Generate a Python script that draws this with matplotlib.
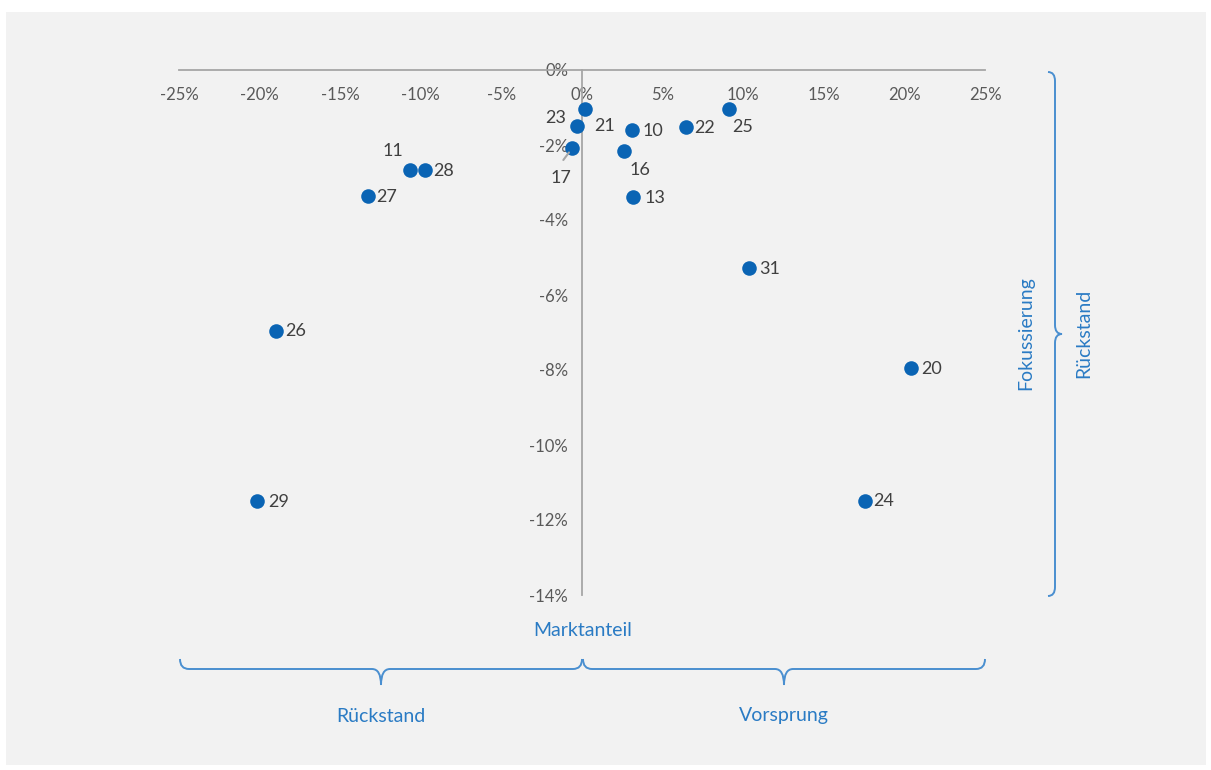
import matplotlib
matplotlib.use("Agg")
import matplotlib.pyplot as plt
from matplotlib.path import Path
from matplotlib.patches import PathPatch, Rectangle

plt.rcParams['font.family'] = ['Lato', 'DejaVu Sans']

# ---- data (percent) ----
ids = ["23", "21", "17", "10", "16", "13", "22", "25", "11", "28", "27", "31", "26", "20", "29", "24"]
x_vals = [-0.3, 0.2, -0.6, 3.1, 2.6, 3.15, 6.45, 9.1, -10.7, -9.75, -13.3, 10.35, -19.0, 20.4, -20.15, 17.55]
y_vals = [-1.5, -1.05, -2.08, -1.6, -2.16, -3.38, -1.52, -1.04, -2.67, -2.67, -3.36, -5.28, -6.95, -7.95, -11.5, -11.48]
x_ticks = [-25, -20, -15, -10, -5, 0, 5, 10, 15, 20, 25]
y_ticks = [0, -2, -4, -6, -8, -10, -12, -14]
x_title = "Marktanteil"
y_title = "Fokussierung"
bottom_groups = ["Rückstand", "Vorsprung"]
right_group = "Rückstand"

# label offsets in pixels (dx, dy up)
label_off = {"23": (-22, 8), "21": (19, -17), "17": (-11, -30), "10": (21, -1),
             "16": (16, -19), "13": (22, -1), "22": (19, -1), "25": (14, -18),
             "11": (-17, 19), "28": (19, -1), "27": (19, -1), "31": (21, -1),
             "26": (20, 0), "20": (21, -1), "29": (21, -1), "24": (19, 0)}

W, H = 1211, 770
fig = plt.figure(figsize=(W / 100, H / 100), dpi=100)
fig.patch.set_facecolor("white")

# background overlay axes in pixel coordinates
bg = fig.add_axes([0, 0, 1, 1], zorder=0)
bg.set_xlim(0, W)
bg.set_ylim(H, 0)
bg.axis("off")
bg.add_patch(Rectangle((6, 12), 1200, 753, facecolor="#f2f2f2", edgecolor="none"))

BLUE_TXT = "#2a7bc4"
BRACE = "#4a8fd0"
GREY_TXT = "#595959"
AX_GREY = "#a6a6a6"
PT = "#0a64b4"

# main axes
L, R, T, B = 179, 985, 70, 595
ax = fig.add_axes([L / W, (H - B) / H, (R - L) / W, (B - T) / H], zorder=2)
ax.set_facecolor("none")
ax.set_xlim(-25, 25)
ax.set_ylim(-14, 0)
for s in ["bottom", "right"]:
    ax.spines[s].set_visible(False)
ax.spines["top"].set_color(AX_GREY)
ax.spines["left"].set_color(AX_GREY)
ax.spines["left"].set_position(("data", 0))
ax.spines["top"].set_linewidth(1.3)
ax.spines["left"].set_linewidth(1.3)

ax.set_xticks(x_ticks)
ax.set_xticklabels([f"{t}%" for t in x_ticks])
ax.set_yticks(y_ticks)
ax.set_yticklabels([f"{t}%" for t in y_ticks])
ax.tick_params(axis="x", top=True, labeltop=True, bottom=False, labelbottom=False,
               length=0, pad=-24, labelsize=12, labelcolor=GREY_TXT)
ax.tick_params(axis="y", length=0, pad=10, labelsize=12, labelcolor=GREY_TXT)

ax.scatter(x_vals, y_vals, s=110, color=PT, zorder=3, linewidths=0)

for i, xv, yv in zip(ids, x_vals, y_vals):
    dx, dy = label_off[i]
    ax.annotate(i, (xv, yv), xytext=(dx, dy), textcoords="offset pixels",
                ha="center", va="center", fontsize=13, color="#404040", zorder=4)
# leader line for 17
i17 = ids.index("17")
ax.annotate("", (x_vals[i17], y_vals[i17]), xytext=(-9, -12), textcoords="offset pixels",
            arrowprops=dict(arrowstyle="-", color="#a6a6a6", lw=1.5, shrinkA=0, shrinkB=4))

# titles
bg.text(583, 631, x_title, ha="center", va="center", fontsize=14, color=BLUE_TXT)
bg.text(1026, 333, y_title, ha="center", va="center", rotation=90, fontsize=14, color=BLUE_TXT)
bg.text(1084, 333, right_group, ha="center", va="center", rotation=90, fontsize=14, color=BLUE_TXT)
bg.text(381, 716, bottom_groups[0], ha="center", va="center", fontsize=14, color=BLUE_TXT)
bg.text(784, 716, bottom_groups[1], ha="center", va="center", fontsize=14, color=BLUE_TXT)


def hbrace(x0, x1, ye, yl, yt, r=9):
    xm = (x0 + x1) / 2
    verts = [(x0, ye), (x0, yl), (x0 + r, yl), (xm - r, yl), (xm, yl), (xm, yt),
             (xm, yl), (xm + r, yl), (x1 - r, yl), (x1, yl), (x1, ye)]
    codes = [Path.MOVETO, Path.CURVE3, Path.CURVE3, Path.LINETO, Path.CURVE3, Path.CURVE3,
             Path.CURVE3, Path.CURVE3, Path.LINETO, Path.CURVE3, Path.CURVE3]
    bg.add_patch(PathPatch(Path(verts, codes), facecolor="none", edgecolor=BRACE, lw=1.4))


def vbrace(y0, y1, xe, xl, xt, r=9):
    ym = (y0 + y1) / 2
    verts = [(xe, y0), (xl, y0), (xl, y0 + r), (xl, ym - r), (xl, ym), (xt, ym),
             (xl, ym), (xl, ym + r), (xl, y1 - r), (xl, y1), (xe, y1)]
    codes = [Path.MOVETO, Path.CURVE3, Path.CURVE3, Path.LINETO, Path.CURVE3, Path.CURVE3,
             Path.CURVE3, Path.CURVE3, Path.LINETO, Path.CURVE3, Path.CURVE3]
    bg.add_patch(PathPatch(Path(verts, codes), facecolor="none", edgecolor=BRACE, lw=1.4))


hbrace(180, 582, 659, 669, 685)
hbrace(583, 985, 659, 669, 685)
vbrace(72, 596, 1048, 1055, 1062)

fig.savefig("out.png", dpi=100, facecolor="white")
